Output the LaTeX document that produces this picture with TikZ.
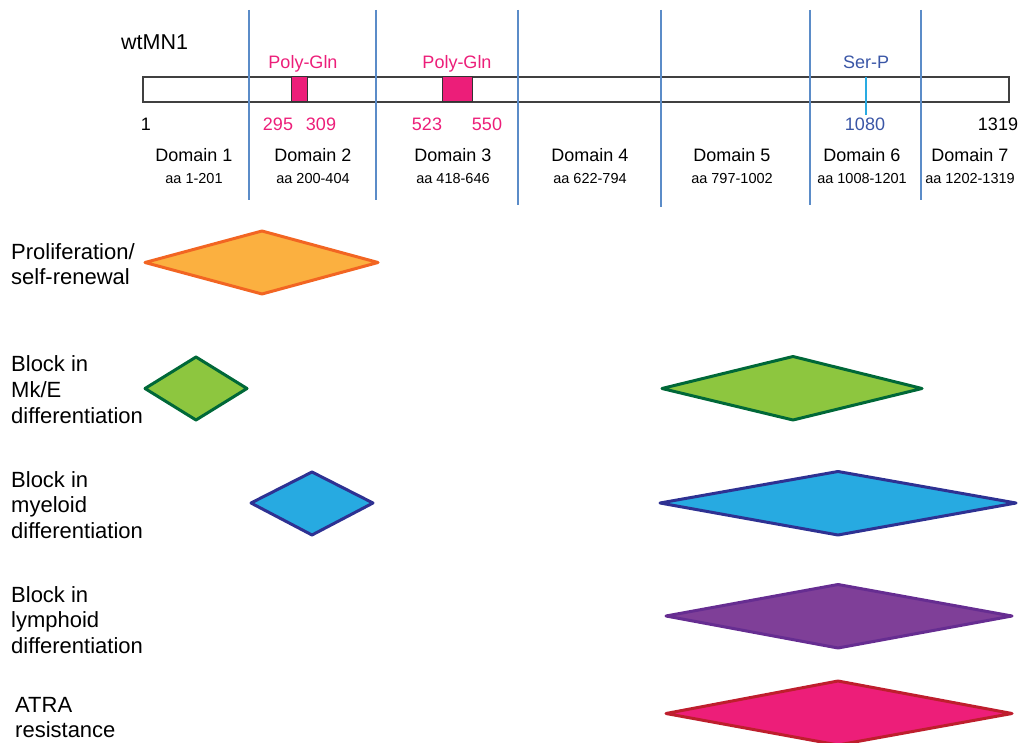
\documentclass[tikz,border=0pt]{standalone}
\usepackage{fontspec}
\setmainfont{Liberation Sans}
\definecolor{vline}{HTML}{5B8CC8}
\definecolor{polyq}{HTML}{EC1E79}
\definecolor{serp}{HTML}{3A56A6}
\definecolor{serline}{HTML}{29ABE2}
\definecolor{orfill}{HTML}{FBB040}
\definecolor{ordraw}{HTML}{F26522}
\definecolor{grfill}{HTML}{8DC63F}
\definecolor{grdraw}{HTML}{006838}
\definecolor{blfill}{HTML}{27AAE1}
\definecolor{bldraw}{HTML}{2E3192}
\definecolor{pufill}{HTML}{7F3F98}
\definecolor{pudraw}{HTML}{662D91}
\definecolor{pkfill}{HTML}{ED1E79}
\definecolor{pkdraw}{HTML}{BE1E2D}
\tikzset{
  lbl/.style={inner sep=0pt, anchor=base west, font=\fontsize{22}{26}\selectfont},
  dom/.style={inner sep=0pt, anchor=base, font=\fontsize{18}{20}\selectfont},
  aa/.style={inner sep=0pt, anchor=base, font=\fontsize{14.5}{16}\selectfont},
  num/.style={inner sep=0pt, anchor=base, font=\fontsize{18}{20}\selectfont},
  divider/.style={draw=vline, line width=1.3pt},
  dia/.style={line width=3pt, line join=round},
}
\begin{document}
\begin{tikzpicture}[x=1pt,y=-1pt]
\useasboundingbox (0,0) rectangle (1026,743);
% protein bar
\draw[line width=1.2pt, draw=black!75, fill=white] (143,77) rectangle (1009,102);
\fill[polyq, draw=black!80, line width=1pt] (291,77) rectangle (307,102);
\fill[polyq, draw=black!80, line width=1pt] (442,77) rectangle (472,102);
\draw[serline, line width=1.3pt] (866,77) -- (866,115);
% dividers
\foreach \x/\b in {249/200,376/200,518/205,661/207,810/205,921/200}
  \draw[divider] (\x,10) -- (\x,\b);
% header texts
\node[inner sep=0pt, anchor=base west, font=\fontsize{21.5}{24}\selectfont] (title) at (121,49.5) {wtMN1};
\node[num, text=polyq] (pq1) at (303,68.5) {Poly-Gln};
\node[num, text=polyq] (pq2) at (457,68.5) {Poly-Gln};
\node[num, text=serp] (sp) at (866,68.5) {Ser-P};
\node[num] (n1) at (146,130.5) {1};
\node[num, text=polyq] (n295) at (278,130.5) {295};
\node[num, text=polyq] (n309) at (321,130.5) {309};
\node[num, text=polyq] (n523) at (427,130.5) {523};
\node[num, text=polyq] (n550) at (487,130.5) {550};
\node[num, text=serp] (n1080) at (865,130.5) {1080};
\node[num] (n1319) at (998,130.5) {1319};
% domains
\foreach \i/\x/\r in {1/194/1-201,2/313/200-404,3/453/418-646,4/590/622-794,5/732/797-1002,6/862/1008-1201,7/970/1202-1319}{
  \node[dom] (d\i) at (\x,161.5) {Domain \i};
  \node[aa] (a\i) at (\x,184) {aa \r};
}
% left labels
\node[lbl] (l1a) at (11,260) {Proliferation/};
\node[lbl] (l1b) at (11,285) {self-renewal};
\node[lbl] (l2a) at (11,372) {Block in};
\node[lbl] (l2b) at (11,397.5) {Mk/E};
\node[lbl] (l2c) at (11,423) {differentiation};
\node[lbl] (l3a) at (11,487) {Block in};
\node[lbl] (l3b) at (11,512.5) {myeloid};
\node[lbl] (l3c) at (11,538) {differentiation};
\node[lbl] (l4a) at (11,602) {Block in};
\node[lbl] (l4b) at (11,627.5) {lymphoid};
\node[lbl] (l4c) at (11,653) {differentiation};
\node[lbl] (l5a) at (15,712) {ATRA};
\node[lbl] (l5b) at (15,737) {resistance};
% diamonds
\draw[dia, fill=orfill, draw=ordraw] (145,262.5) -- (262,231) -- (378,262.5) -- (262,294) -- cycle;
\draw[dia, fill=grfill, draw=grdraw] (145,388.5) -- (196,357) -- (247,388.5) -- (196,420) -- cycle;
\draw[dia, fill=grfill, draw=grdraw] (662,388.5) -- (793,356.5) -- (922,388.5) -- (793,420) -- cycle;
\draw[dia, fill=blfill, draw=bldraw] (251,503) -- (312,472) -- (373,503) -- (312,535) -- cycle;
\draw[dia, fill=blfill, draw=bldraw] (660,503) -- (838,471.5) -- (1016,503) -- (838,535) -- cycle;
\draw[dia, fill=pufill, draw=pudraw] (666,616) -- (838,584.5) -- (1012,616) -- (838,648) -- cycle;
\draw[dia, fill=pkfill, draw=pkdraw] (666,713.5) -- (838,681) -- (1012,713.5) -- (838,745) -- cycle;
\end{tikzpicture}
\end{document}
